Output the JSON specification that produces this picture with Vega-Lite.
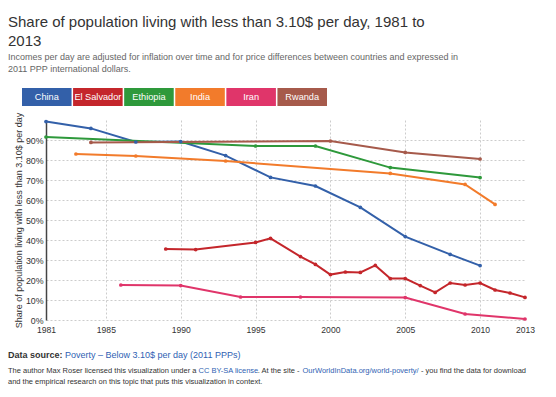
{
  "$schema": "https://vega.github.io/schema/vega-lite/v6.json",
  "padding": {"left": 8, "top": 14, "right": 4, "bottom": 4},
  "background": "white",
  "config": {"view": {"stroke": null}, "font": "Liberation Sans"},
  "title": {
    "text": ["Share of population living with less than 3.10$ per day, 1981 to", "2013"],
    "subtitle": ["Incomes per day are adjusted for inflation over time and for price differences between countries and expressed in", "2011 PPP international dollars."],
    "anchor": "start",
    "font": "Liberation Sans",
    "fontSize": 15,
    "fontWeight": "normal",
    "color": "#333333",
    "lineHeight": 19,
    "subtitleFont": "Liberation Sans",
    "subtitleFontSize": 9,
    "subtitleColor": "#666666",
    "subtitleLineHeight": 12.5,
    "subtitlePadding": 4,
    "offset": 14
  },
  "datasets": {
    "countries": [
      {"country": "China"}, {"country": "El Salvador"}, {"country": "Ethiopia"},
      {"country": "India"}, {"country": "Iran"}, {"country": "Rwanda"}
    ],
    "poverty": [
      {"country": "China", "year": 1981, "value": 0.992},
      {"country": "China", "year": 1984, "value": 0.958},
      {"country": "China", "year": 1987, "value": 0.890},
      {"country": "China", "year": 1990, "value": 0.892},
      {"country": "China", "year": 1993, "value": 0.822},
      {"country": "China", "year": 1996, "value": 0.713},
      {"country": "China", "year": 1999, "value": 0.670},
      {"country": "China", "year": 2002, "value": 0.563},
      {"country": "China", "year": 2005, "value": 0.417},
      {"country": "China", "year": 2008, "value": 0.328},
      {"country": "China", "year": 2010, "value": 0.272},
      {"country": "Ethiopia", "year": 1981, "value": 0.915},
      {"country": "Ethiopia", "year": 1995, "value": 0.870},
      {"country": "Ethiopia", "year": 1999, "value": 0.870},
      {"country": "Ethiopia", "year": 2004, "value": 0.762},
      {"country": "Ethiopia", "year": 2010, "value": 0.712},
      {"country": "Rwanda", "year": 1984, "value": 0.888},
      {"country": "Rwanda", "year": 2000, "value": 0.895},
      {"country": "Rwanda", "year": 2005, "value": 0.838},
      {"country": "Rwanda", "year": 2010, "value": 0.805},
      {"country": "India", "year": 1983, "value": 0.830},
      {"country": "India", "year": 1987, "value": 0.820},
      {"country": "India", "year": 1993, "value": 0.795},
      {"country": "India", "year": 2004, "value": 0.733},
      {"country": "India", "year": 2009, "value": 0.678},
      {"country": "India", "year": 2011, "value": 0.578},
      {"country": "El Salvador", "year": 1989, "value": 0.355},
      {"country": "El Salvador", "year": 1991, "value": 0.352},
      {"country": "El Salvador", "year": 1995, "value": 0.388},
      {"country": "El Salvador", "year": 1996, "value": 0.408},
      {"country": "El Salvador", "year": 1998, "value": 0.317},
      {"country": "El Salvador", "year": 1999, "value": 0.278},
      {"country": "El Salvador", "year": 2000, "value": 0.227},
      {"country": "El Salvador", "year": 2001, "value": 0.240},
      {"country": "El Salvador", "year": 2002, "value": 0.238},
      {"country": "El Salvador", "year": 2003, "value": 0.273},
      {"country": "El Salvador", "year": 2004, "value": 0.207},
      {"country": "El Salvador", "year": 2005, "value": 0.207},
      {"country": "El Salvador", "year": 2006, "value": 0.172},
      {"country": "El Salvador", "year": 2007, "value": 0.138},
      {"country": "El Salvador", "year": 2008, "value": 0.185},
      {"country": "El Salvador", "year": 2009, "value": 0.175},
      {"country": "El Salvador", "year": 2010, "value": 0.185},
      {"country": "El Salvador", "year": 2011, "value": 0.150},
      {"country": "El Salvador", "year": 2012, "value": 0.135},
      {"country": "El Salvador", "year": 2013, "value": 0.113},
      {"country": "Iran", "year": 1986, "value": 0.175},
      {"country": "Iran", "year": 1990, "value": 0.172},
      {"country": "Iran", "year": 1994, "value": 0.115},
      {"country": "Iran", "year": 1998, "value": 0.115},
      {"country": "Iran", "year": 2005, "value": 0.112},
      {"country": "Iran", "year": 2009, "value": 0.030},
      {"country": "Iran", "year": 2013, "value": 0.005}
    ],
    "footer": [
      {"k": "src", "line": "l0", "text": "Data source:"},
      {"k": "link", "line": "l0", "text": "Poverty – Below 3.10$ per day (2011 PPPs)"},
      {"k": "a", "line": "l1", "text": "The author Max Roser licensed this visualization under a"},
      {"k": "b", "line": "l1", "text": "CC BY-SA license"},
      {"k": "c", "line": "l1", "text": ". At the site -"},
      {"k": "d", "line": "l1", "text": "OurWorldInData.org/world-poverty/"},
      {"k": "e", "line": "l1", "text": "- you find the data for download"},
      {"k": "f", "line": "l2", "text": "and the empirical research on this topic that puts this visualization in context."}
    ]
  },
  "spacing": 16,
  "vconcat": [
    {
      "spacing": 6,
      "vconcat": [
        {
          "width": 333,
          "height": 18,
          "data": {"name": "countries"},
          "encoding": {
            "x": {
              "field": "country", "type": "nominal", "sort": null,
              "scale": {"type": "band", "paddingInner": 0.03, "paddingOuter": 0, "range": [-24, 281]},
              "axis": null
            }
          },
          "layer": [
            {
              "mark": {"type": "rect"},
              "encoding": {
                "color": {
                  "field": "country", "type": "nominal",
                  "scale": {
                    "domain": ["China", "El Salvador", "Ethiopia", "India", "Iran", "Rwanda"],
                    "range": ["#3360a9", "#c4262b", "#2e993b", "#f27b2b", "#e0356a", "#a65a4b"]
                  },
                  "legend": null
                }
              }
            },
            {
              "mark": {"type": "text", "color": "white", "fontSize": 9.2, "font": "Liberation Sans", "baseline": "middle"},
              "encoding": {"text": {"field": "country"}}
            }
          ]
        },
        {
          "width": 479,
          "height": 200,
          "data": {"name": "poverty"},
          "encoding": {
            "x": {
              "field": "year", "type": "quantitative",
              "scale": {"domain": [1981, 2013], "nice": false, "zero": false},
              "axis": {
                "values": [1981, 1985, 1990, 1995, 2000, 2005, 2010, 2013],
                "format": "d", "title": null, "domain": false, "ticks": false, "tickSize": 0,
                "labelFlush": false, "labelOverlap": false,
                "labelPadding": 5.5, "labelFontSize": 8.6, "labelColor": "#333333", "labelFont": "Liberation Sans",
                "grid": true, "gridDash": [2, 2], "gridColor": "#cccccc",
                "gridOpacity": {"condition": {"test": "datum.value === 2013", "value": 0}, "value": 1}
              }
            },
            "y": {
              "field": "value", "type": "quantitative",
              "scale": {"domain": [0, 1], "nice": false},
              "axis": {
                "values": [0, 0.1, 0.2, 0.3, 0.4, 0.5, 0.6, 0.7, 0.8, 0.9],
                "format": ".0%",
                "title": "Share of population living with less than 3.10$ per day",
                "titleFont": "Liberation Sans", "titleFontSize": 9, "titleFontWeight": "normal", "titleColor": "#333333",
                "titlePadding": 2,
                "labelFontSize": 8.8, "labelColor": "#333333", "labelFont": "Liberation Sans", "labelPadding": 3,
                "ticks": false, "tickSize": 0,
                "domain": true, "domainColor": "#444444", "domainWidth": 1.5,
                "grid": true, "gridDash": [2, 2], "gridColor": "#cccccc"
              }
            },
            "color": {
              "field": "country", "type": "nominal",
              "scale": {
                "domain": ["China", "El Salvador", "Ethiopia", "India", "Iran", "Rwanda"],
                "range": ["#3360a9", "#c4262b", "#2e993b", "#f27b2b", "#e0356a", "#a65a4b"]
              },
              "legend": null
            }
          },
          "layer": [
            {"mark": {"type": "line", "strokeWidth": 2}},
            {"mark": {"type": "point", "filled": true, "size": 14, "opacity": 1}}
          ]
        }
      ]
    },
    {
      "width": 479,
      "height": 22,
      "data": {"name": "footer"},
      "encoding": {
        "x": {"value": 0},
        "y": {"field": "line", "type": "ordinal", "scale": {"type": "point", "padding": 0}, "axis": null},
        "text": {"field": "text"}
      },
      "layer": [
        {"transform": [{"filter": "datum.k === 'src'"}], "mark": {"type": "text", "align": "left", "baseline": "middle", "fontSize": 9, "fontWeight": "bold", "color": "#333333", "dx": -38, "dy": -5}},
        {"transform": [{"filter": "datum.k === 'link'"}], "mark": {"type": "text", "align": "left", "baseline": "middle", "fontSize": 9, "color": "#2f5fb3", "dx": 19, "dy": -5}},
        {"transform": [{"filter": "datum.k === 'a' || datum.k === 'f'"}], "mark": {"type": "text", "align": "left", "baseline": "middle", "fontSize": 7.5, "color": "#333333", "dx": -38}},
        {"transform": [{"filter": "datum.k === 'b'"}], "mark": {"type": "text", "align": "left", "baseline": "middle", "fontSize": 7.5, "color": "#2f5fb3", "dx": 152.5}},
        {"transform": [{"filter": "datum.k === 'c'"}], "mark": {"type": "text", "align": "left", "baseline": "middle", "fontSize": 7.5, "color": "#333333", "dx": 211.8}},
        {"transform": [{"filter": "datum.k === 'd'"}], "mark": {"type": "text", "align": "left", "baseline": "middle", "fontSize": 7.5, "color": "#2f5fb3", "dx": 256.5}},
        {"transform": [{"filter": "datum.k === 'e'"}], "mark": {"type": "text", "align": "left", "baseline": "middle", "fontSize": 7.5, "color": "#333333", "dx": 374.9}}
      ]
    }
  ]
}
